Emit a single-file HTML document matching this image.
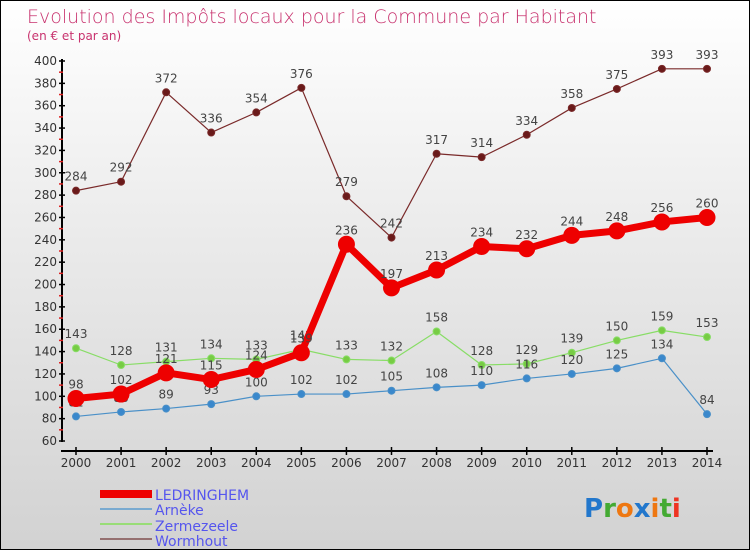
<!DOCTYPE html>
<html><head><meta charset="utf-8"><style>
html,body{margin:0;padding:0}
body{width:750px;height:550px;overflow:hidden;font-family:"DejaVu Sans","Liberation Sans",sans-serif}
#wrap{position:relative;width:748px;height:548px;border:1px solid #000;background:linear-gradient(#ffffff 0%,#ececec 40%,#d2d2d2 100%)}
</style></head><body>
<div id="wrap">
<svg id="chart" width="748" height="548" style="position:absolute;left:0;top:0">
<text x="26" y="22" font-size="19" fill="#c8326e" font-family="DejaVu Sans, sans-serif" font-weight="200">Evolution des Impôts locaux pour la Commune par Habitant</text>
<text x="26" y="39" font-size="12" fill="#c8326e">(en € et par an)</text>
<g id="axes"></g><g id="series"></g>
<g>
<rect x="99" y="489" width="52" height="8" fill="#ee0000"/>
<text x="154" y="499" font-size="14" fill="#5555ee">LEDRINGHEM</text>
<rect x="99" y="507" width="52" height="2" fill="#7aaad0"/>
<text x="154" y="514" font-size="14" fill="#5555ee">Arnèke</text>
<rect x="99" y="522" width="52" height="2" fill="#99dd77"/>
<text x="154" y="530" font-size="14" fill="#5555ee">Zermezeele</text>
<rect x="99" y="537" width="52" height="2" fill="#957070"/>
<text x="154" y="545" font-size="14" fill="#5555ee">Wormhout</text>
</g>
<g font-size="26" font-weight="bold" font-family="DejaVu Sans, sans-serif">
<text x="583" y="516"><tspan fill="#2277cc">P</tspan><tspan fill="#44aa33">r</tspan><tspan fill="#ee7711">o</tspan><tspan fill="#2277cc">x</tspan><tspan fill="#ee7711">i</tspan><tspan fill="#44aa33">t</tspan><tspan fill="#ee3322">i</tspan></text>
</g>
</svg>
</div>
<script>
const years=[2000,2001,2002,2003,2004,2005,2006,2007,2008,2009,2010,2011,2012,2013,2014];
const yTicks=[60,80,100,120,140,160,180,200,220,240,260,280,300,320,340,360,380,400];
const ledringhem=[98,102,121,115,124,139,236,197,213,234,232,244,248,256,260];
const arneke=[82,86,89,93,100,102,102,105,108,110,116,120,125,134,84];
const zermezeele=[143,128,131,134,133,142,133,132,158,128,129,139,150,159,153];
const wormhout=[284,292,372,336,354,376,279,242,317,314,334,358,375,393,393];
const NS='http://www.w3.org/2000/svg';
function xs(i){return 75+i*(631/14);}
function ys(v){return 440-(v-60)*(380/340);}
function mk(tag,attrs,parent){const e=document.createElementNS(NS,tag);for(const k in attrs)e.setAttribute(k,attrs[k]);parent.appendChild(e);return e;}
const axes=document.getElementById('axes');
const ser=document.getElementById('series');
const ya=mk('line',{x1:61,y1:58,x2:61,y2:441,stroke:'#000','stroke-width':2},axes);


const xa=mk('line',{x1:60,y1:450,x2:712,y2:450,stroke:'#000','stroke-width':2},axes);


yTicks.forEach(v=>{
  const y=ys(v);
  mk('line',{x1:58,y1:y,x2:64,y2:y,stroke:'#000','stroke-width':1.5},axes);
  if(v<400) mk('line',{x1:58,y1:ys(v+10),x2:62,y2:ys(v+10),stroke:'#dd2222','stroke-width':1.5},axes);
  const t=mk('text',{x:56,y:y+4,'font-size':12,fill:'#333','text-anchor':'end'},axes);
  t.textContent=v;
  
  
});
years.forEach((yr,i)=>{
  const x=xs(i);
  mk('line',{x1:x,y1:446,x2:x,y2:454,stroke:'#000','stroke-width':1.5},axes);
  const t=mk('text',{x:x,y:466,'font-size':12,fill:'#333','text-anchor':'middle'},axes);
  t.textContent=yr;
  
  
});
function draw(name,vals,color,w,r,dot){
  const g=mk('g',{},ser);
  
  
  const p=mk('polyline',{points:vals.map((v,i)=>xs(i)+','+ys(v)).join(' '),fill:'none',stroke:color,'stroke-width':w,'stroke-linejoin':'round'},g);
  
  
  vals.forEach((v,i)=>{
    const c=mk('circle',{cx:xs(i),cy:ys(v),r:r,fill:dot,stroke:color,'stroke-width':1},g);
    
    
    const t=mk('text',{x:xs(i),y:ys(v)-10,'font-size':12,fill:'#444','text-anchor':'middle'},g);
    t.textContent=v;
    
    
  });
}
draw('wormhout',wormhout,'#7a2a2a',1.2,3.5,'#6a1a1a');
draw('zermezeele',zermezeele,'#88dd66',1.2,3.5,'#77cc44');
draw('arneke',arneke,'#4a90c8',1.2,3.5,'#3a88cc');
draw('ledringhem',ledringhem,'#ee0000',7,8,'#ee0000');
</script>
</body></html>
